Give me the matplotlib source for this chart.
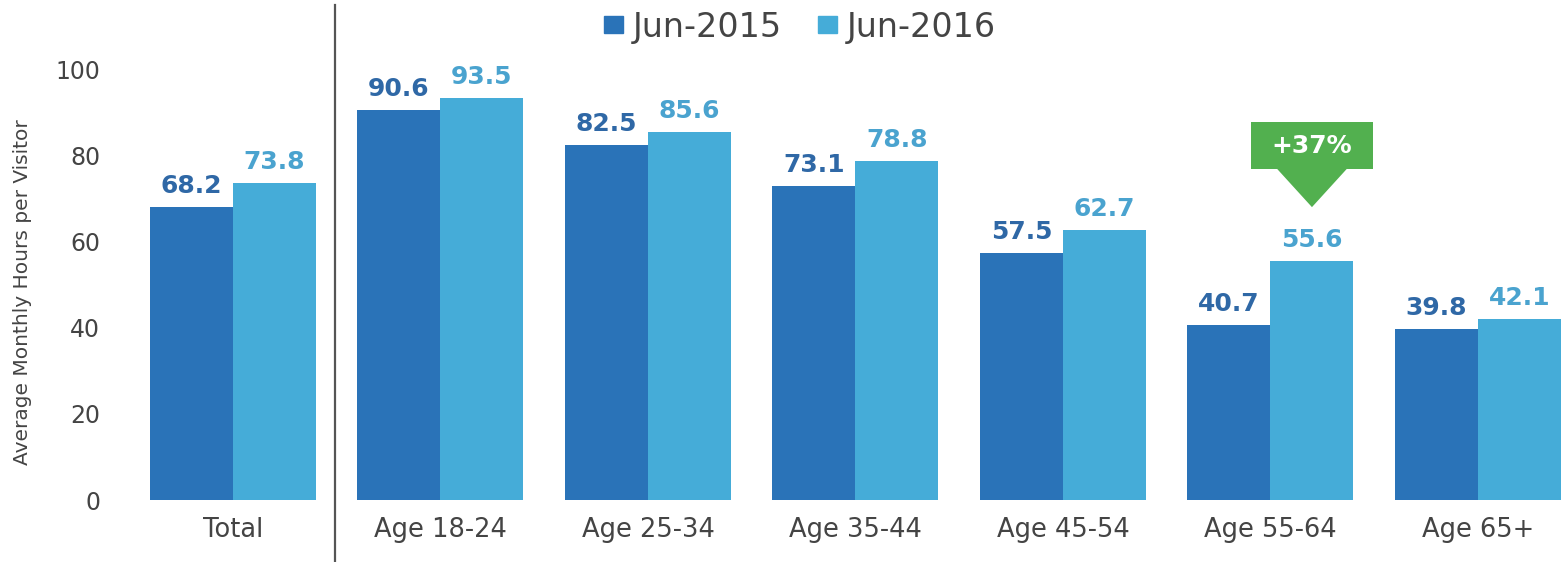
import matplotlib.pyplot as plt
from matplotlib.patches import Patch, Rectangle, Polygon
import numpy as np

categories = ['Total', 'Age 18-24', 'Age 25-34', 'Age 35-44', 'Age 45-54', 'Age 55-64', 'Age 65+']
jun2015 = [68.2, 90.6, 82.5, 73.1, 57.5, 40.7, 39.8]
jun2016 = [73.8, 93.5, 85.6, 78.8, 62.7, 55.6, 42.1]
series_names = ['Jun-2015', 'Jun-2016']
callout_text = '+37%'
callout_idx = 5

dark = '#2a73b8'
light = '#45acd8'
dark_lbl = '#2f68a6'
light_lbl = '#4aa3cf'
green = '#52b04f'
grey = '#444444'

plt.rcParams['font.family'] = ['DejaVu Sans']

fig = plt.figure(figsize=(15.62, 5.62), dpi=100)
ax = fig.add_axes([135 / 1562, 62 / 562, 1427 / 1562, 495 / 562])

x = np.arange(len(categories))
w = 0.4
ax.bar(x - w / 2, jun2015, w, color=dark)
ax.bar(x + w / 2, jun2016, w, color=light)

# value labels
for i in range(len(x)):
    ax.annotate(f'{jun2015[i]:.1f}', (x[i] - w / 2, jun2015[i]), xytext=(0, 10),
                textcoords='offset points', ha='center', va='baseline',
                fontsize=18, fontweight='bold', color=dark_lbl)
    ax.annotate(f'{jun2016[i]:.1f}', (x[i] + w / 2, jun2016[i]), xytext=(0, 10),
                textcoords='offset points', ha='center', va='baseline',
                fontsize=18, fontweight='bold', color=light_lbl)

ax.set_xlim(-0.472, 6.405)
ax.set_ylim(0, 115.1)
ax.set_yticks(range(0, 101, 20))
ax.set_xticks(x)
ax.set_xticklabels(categories)
ax.tick_params(axis='y', length=0, pad=25, labelsize=17, labelcolor=grey)
ax.tick_params(axis='x', length=0, pad=12, labelsize=18.5, labelcolor=grey)
for s in ax.spines.values():
    s.set_visible(False)

ax.set_ylabel('Average Monthly Hours per Visitor', fontsize=14.5, color=grey)
ax.yaxis.set_label_coords(-0.072, 0.42)

# separator between Total and age groups
ax.axvline(0.49, ymin=-0.125, ymax=1.0, color='#555555', lw=1.6, clip_on=False)

# green callout over the 55-64 growth
cx = x[callout_idx] + w / 2
v = jun2016[callout_idx]
ax.add_patch(Rectangle((cx - 0.295, v + 21.3), 0.59, 10.9, color=green, lw=0))
ax.add_patch(Polygon([(cx - 0.17, v + 21.5), (cx + 0.17, v + 21.5), (cx, v + 12.5)],
                     closed=True, color=green, lw=0))
ax.text(cx, v + 26.8, callout_text, ha='center', va='center', fontsize=18,
        fontweight='bold', color='white')

handles = [Patch(color=dark), Patch(color=light)]
fig.legend(handles, series_names, loc='center', bbox_to_anchor=(800 / 1562, 1 - 27 / 562),
           ncol=2, frameon=False, fontsize=24, handlelength=0.55, handleheight=0.4,
           handletextpad=0.3, columnspacing=1.1, labelcolor=grey)

fig.savefig('out.png', dpi=100)
